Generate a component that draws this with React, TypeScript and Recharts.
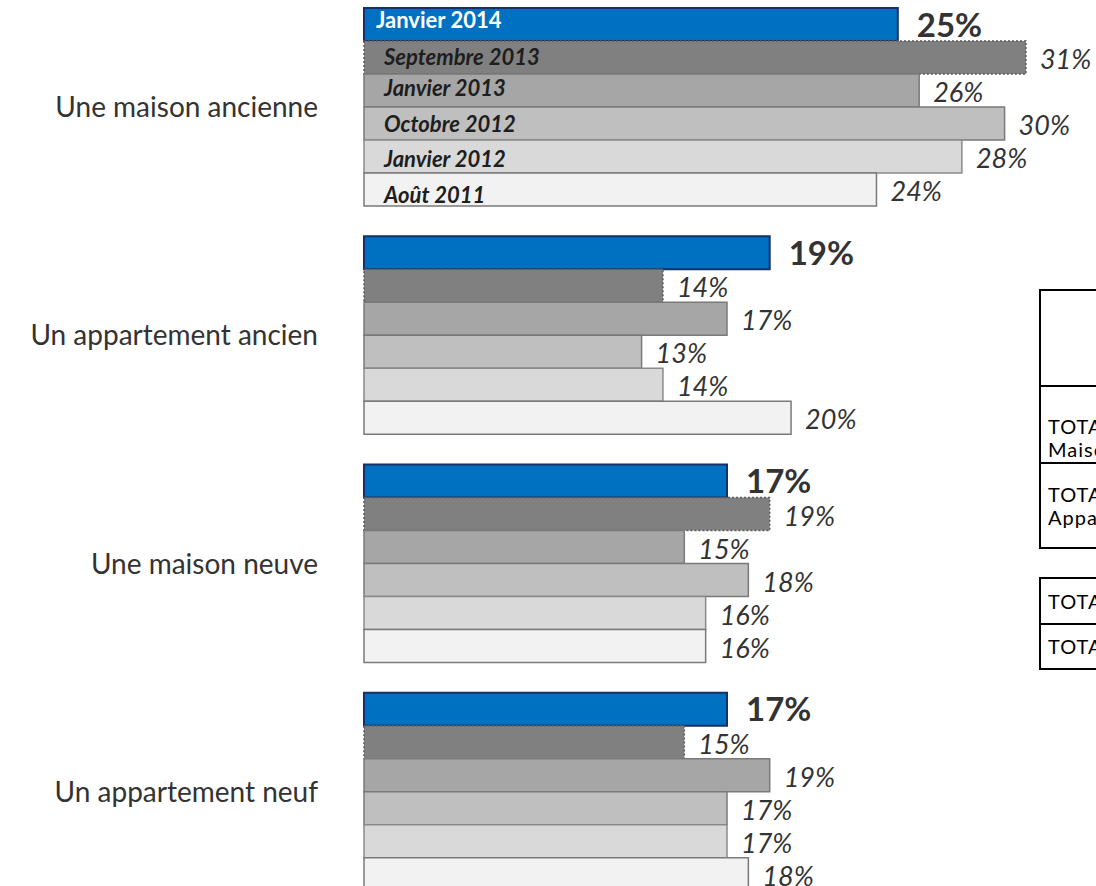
import { BarChart, Bar, XAxis, YAxis, LabelList } from 'recharts';

const categories = ['Une maison ancienne', 'Un appartement ancien', 'Une maison neuve', 'Un appartement neuf'];
const seriesNames = ['Janvier 2014', 'Septembre 2013', 'Janvier 2013', 'Octobre 2012', 'Janvier 2012', 'Août 2011'];

const janvier2014 = [25, 19, 17, 17];
const septembre2013 = [31, 14, 19, 15];
const janvier2013 = [26, 17, 15, 19];
const octobre2012 = [30, 13, 18, 17];
const janvier2012 = [28, 14, 16, 17];
const aout2011 = [24, 20, 16, 18];

const seriesValues = [janvier2014, septembre2013, janvier2013, octobre2012, janvier2012, aout2011];

const data = categories.map((cat, i) => {
  const row: Record<string, string | number> = { cat };
  seriesNames.forEach((name, s) => {
    row[name] = seriesValues[s][i];
  });
  return row;
});

const seriesStyle = [
  { fill: '#0070C0', stroke: '#17306b', dash: undefined, strokeWidth: 2, nameColor: '#ffffff', nameItalic: false, nameDx: 12, nameDy: -5 },
  { fill: '#808080', stroke: '#5a5a5a', dash: '2 2', strokeWidth: 1.5, nameColor: '#1e1e1e', nameItalic: true, nameDx: 20, nameDy: -1 },
  { fill: '#A6A6A6', stroke: '#7a7a7a', dash: undefined, strokeWidth: 1.5, nameColor: '#1e1e1e', nameItalic: true, nameDx: 20, nameDy: -3 },
  { fill: '#BFBFBF', stroke: '#7a7a7a', dash: undefined, strokeWidth: 1.5, nameColor: '#1e1e1e', nameItalic: true, nameDx: 20, nameDy: 0 },
  { fill: '#D9D9D9', stroke: '#8a8a8a', dash: undefined, strokeWidth: 1.5, nameColor: '#1e1e1e', nameItalic: true, nameDx: 20, nameDy: 2 },
  { fill: '#F2F2F2', stroke: '#7a7a7a', dash: undefined, strokeWidth: 1.5, nameColor: '#1e1e1e', nameItalic: true, nameDx: 20, nameDy: 5 },
];

const FONT = 'Lato, "Open Sans", sans-serif';

const CategoryTick = (props: any) => {
  const { x, y, payload } = props;
  return (
    <text x={x - 38} y={y} textAnchor="end" dominantBaseline="central" fontSize={28} fill="#333" fontFamily={FONT}>
      {payload.value}
    </text>
  );
};

const valueLabel = (s: number) => (props: any) => {
  const { x, y, width, height, value } = props;
  const first = s === 0;
  return (
    <text
      x={x + width + (first ? 19 : 14)}
      y={y + height / 2 + (first ? -1 : 1)}
      dominantBaseline="central"
      fontSize={first ? 33 : 27}
      fontWeight={first ? 700 : 400}
      fontStyle={first ? 'normal' : 'italic'}
      fill="#333"
      fontFamily={FONT}
    >
      {value}%
    </text>
  );
};

const nameLabel = (s: number) => (props: any) => {
  const { x, y, height, index } = props;
  if (index !== 0) return null;
  const st = seriesStyle[s];
  return (
    <text
      x={x + st.nameDx}
      y={y + height / 2 + st.nameDy}
      dominantBaseline="central"
      fontSize={22}
      fontWeight={700}
      fontStyle={st.nameItalic ? 'italic' : 'normal'}
      fill={st.nameColor}
      fontFamily={FONT}
    >
      {seriesNames[s]}
    </text>
  );
};

const rowText: React.CSSProperties = {
  display: 'flex',
  alignItems: 'center',
  paddingLeft: 7,
  fontSize: 20,
  lineHeight: '23px',
  letterSpacing: 1,
  color: '#000',
  fontFamily: FONT,
  boxSizing: 'border-box',
  whiteSpace: 'nowrap',
};

export default function App() {
  return (
    <div style={{ position: 'absolute', left: 0, top: 0, width: 1096, height: 886, overflow: 'hidden', background: '#fff' }}>
      <div style={{ position: 'absolute', left: 0, top: -8 }}>
        <BarChart
          width={1096}
          height={913}
          data={data}
          layout="vertical"
          margin={{ top: 0, right: 6, bottom: 0, left: 0 }}
          barCategoryGap={16}
          barGap={0}
        >
          <XAxis type="number" domain={[0, 34]} hide />
          <YAxis type="category" dataKey="cat" width={364} axisLine={false} tickLine={false} tick={CategoryTick} />
          {seriesNames.map((name, s) => (
            <Bar
              key={name}
              dataKey={name}
              fill={seriesStyle[s].fill}
              stroke={seriesStyle[s].stroke}
              strokeWidth={seriesStyle[s].strokeWidth}
              strokeDasharray={seriesStyle[s].dash}
              isAnimationActive={false}
            >
              <LabelList dataKey={name} content={valueLabel(s)} />
              <LabelList dataKey={name} content={nameLabel(s)} />
            </Bar>
          ))}
        </BarChart>
      </div>

      <div style={{ position: 'absolute', left: 1039, top: 289, width: 220, height: 260, border: '2px solid #000', boxSizing: 'border-box' }}>
        <div style={{ height: 96, borderBottom: '2px solid #000', boxSizing: 'border-box' }} />
        <div style={{ ...rowText, height: 77, alignItems: 'flex-end', paddingBottom: 1, borderBottom: '2px solid #000' }}>
          <div>TOTAL<br />Maison</div>
        </div>
        <div style={{ ...rowText, height: 83 }}>
          <div>TOTAL<br />Appartement</div>
        </div>
      </div>
      <div style={{ position: 'absolute', left: 1039, top: 577, width: 220, height: 93, border: '2px solid #000', boxSizing: 'border-box' }}>
        <div style={{ ...rowText, height: 46, borderBottom: '2px solid #000' }}>TOTAL Ancien</div>
        <div style={{ ...rowText, height: 43 }}>TOTAL Neuf</div>
      </div>
    </div>
  );
}
